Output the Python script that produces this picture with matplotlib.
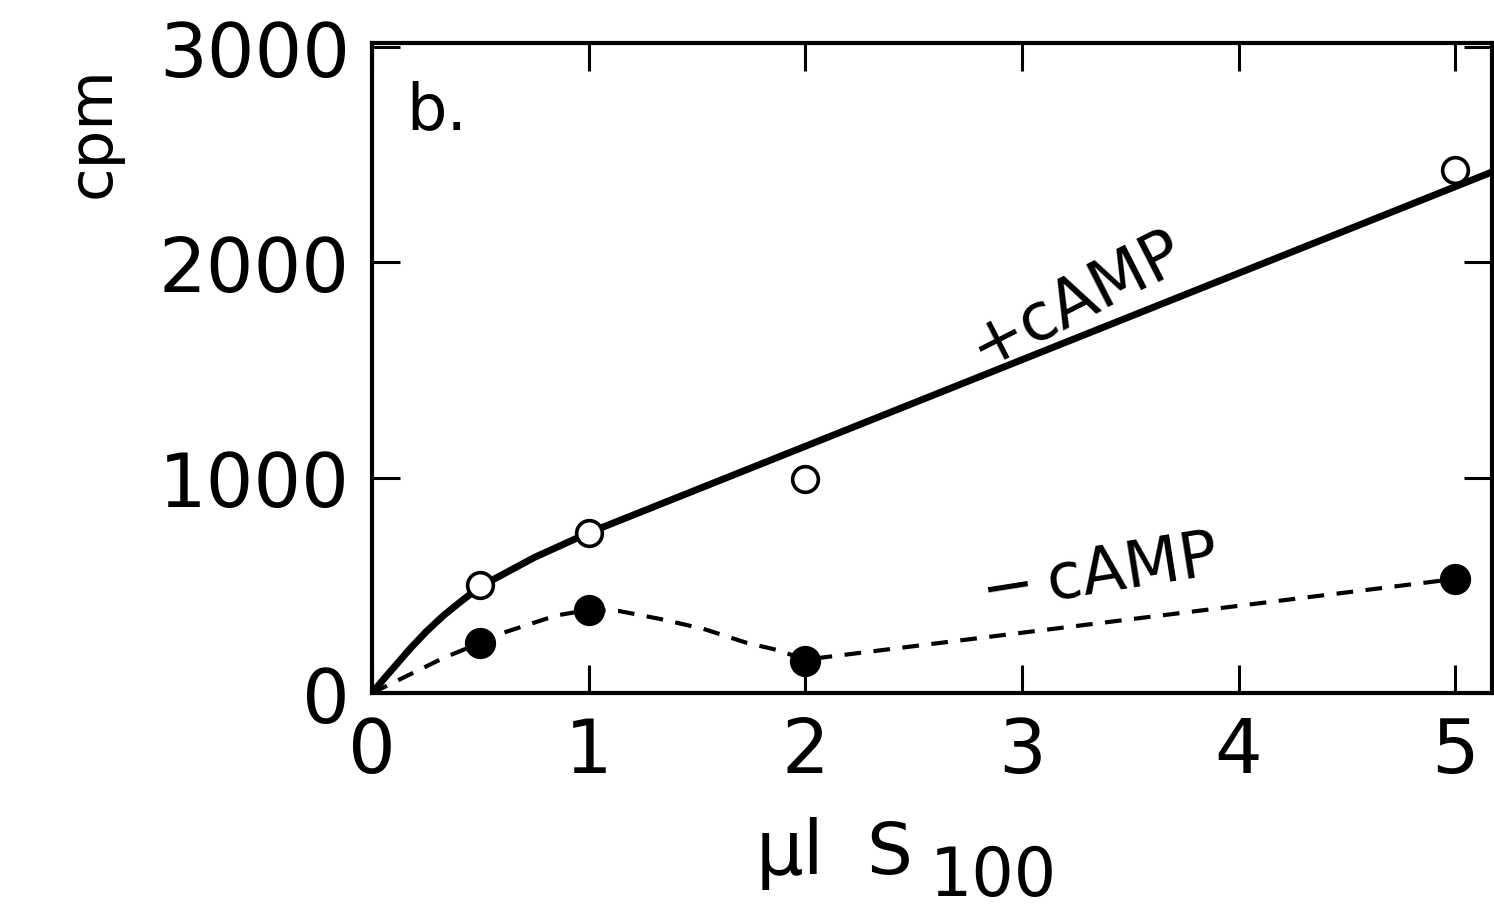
import matplotlib
matplotlib.use("Agg")
import matplotlib.pyplot as plt

# data
x_pts = [0.5, 1.0, 2.0, 5.0]
plus_camp = [502, 744, 995, 2428]
minus_camp = [233, 386, 149, 530]

# hand-drawn fitted curve (+cAMP)
fit_x = [0.0, 0.05, 0.1, 0.175, 0.25, 0.33, 0.41, 0.5, 0.75, 1.0, 5.17]
fit_y = [0, 60, 118, 205, 285, 360, 425, 495, 630, 744, 2420]

# dashed connecting curve (-cAMP), read along the drawn dashes
dash_x = [0.0, 0.33, 0.5, 0.6, 0.85, 1.0, 1.14, 1.33, 1.53, 1.73, 1.87, 2.0, 5.0]
dash_y = [0, 163, 233, 278, 360, 386, 381, 344, 298, 233, 200, 155, 530]

x_ticks = [0, 1, 2, 3, 4, 5]
y_ticks = [0, 1000, 2000, 3000]

plt.rcParams['font.family'] = ['DejaVu Sans']
fig = plt.figure(figsize=(14.94, 9.12), dpi=100)
ax = fig.add_axes([0.249, 0.239, 0.7497, 0.713])

ax.plot(fit_x, fit_y, color='black', lw=5, solid_capstyle='round',
        solid_joinstyle='round', zorder=2)
ax.plot(dash_x, dash_y, color='black', lw=3, dashes=(4, 3), zorder=2)
ax.plot(x_pts, plus_camp, 'o', ms=18.5, mfc='white', mec='black', mew=2.6, zorder=3)
ax.plot(x_pts, minus_camp, 'o', ms=21.5, mfc='black', mec='black', zorder=3)

ax.set_xlim(0, 5.17)
ax.set_ylim(0, 3020)
ax.set_xticks(x_ticks)
ax.set_yticks(y_ticks)
ax.set_xticklabels([str(v) for v in x_ticks])
ax.set_yticklabels([str(v) for v in y_ticks])
ax.tick_params(direction='in', length=20, width=2.2, labelsize=54, pad=16,
               top=True, right=True)
for s in ax.spines.values():
    s.set_linewidth(3)

ax.text(0.16, 2623, 'b.', fontsize=46, ha='left', va='baseline')
ax.text(3.25, 1830, '+cAMP', fontsize=47, rotation=27, ha='center', va='center',
        rotation_mode='anchor')
ax.text(3.36, 555, '\u2212\u2009cAMP', fontsize=46, rotation=9, ha='center',
        va='center', rotation_mode='anchor')

fig.text(0.5060, 0.0420, '\u00b5l', fontsize=54, ha='left', va='baseline')
fig.text(0.5800, 0.0420, 'S', fontsize=52, ha='left', va='baseline')
fig.text(0.6220, 0.0175, '100', fontsize=48, ha='left', va='baseline')
fig.text(0.062, 0.855, 'cpm', fontsize=44, rotation=90, ha='center', va='center')

fig.savefig('out.png', dpi=100, facecolor='white')
